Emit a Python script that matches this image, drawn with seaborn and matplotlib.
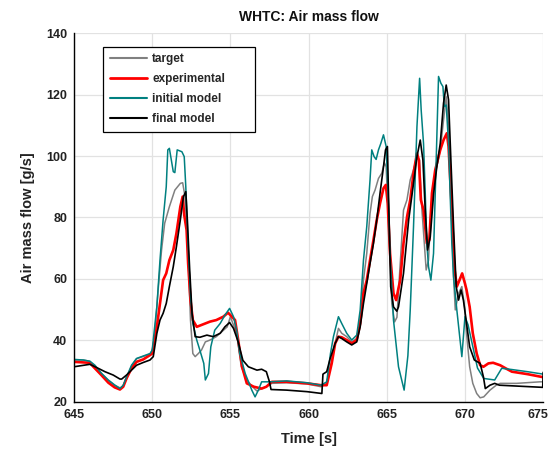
import numpy as np
import pandas as pd
import matplotlib
matplotlib.use("Agg")
import matplotlib.pyplot as plt
import matplotlib.transforms as mtransforms
import seaborn as sns

# ---------------- data ----------------
target_t = [645.0, 645.6, 646.0, 646.35, 646.8, 647.2, 647.6, 647.95, 648.15, 648.4, 648.7, 649.0,
            649.45, 649.9, 650.1, 650.4, 650.6, 650.8, 651.1, 651.45, 651.8, 651.95, 652.1, 652.3,
            652.45, 652.6, 652.75, 652.95, 653.15, 653.4, 653.7, 654.1, 654.8, 655.0, 655.4, 655.7,
            656.05, 656.4, 656.7, 657.0, 657.3, 657.65, 658.6, 659.9, 660.8, 661.16, 661.48, 661.7,
            661.91, 662.12, 662.44, 662.76, 663.08, 663.3, 663.51, 663.72, 663.93, 664.08, 664.25,
            664.47, 664.68, 664.85, 664.96, 665.11, 665.32, 665.5, 665.65, 665.8, 666.07, 666.29,
            666.5, 666.71, 666.93, 667.1, 667.25, 667.4, 667.52, 667.67, 667.82, 667.99, 668.2,
            668.42, 668.63, 668.8, 668.95, 669.1, 669.27, 669.38, 669.59, 669.8, 670.0, 670.1,
            670.3, 670.5, 670.75, 670.97, 671.2, 671.6, 672.0, 672.25, 673.3, 674.8, 675.0]
target_v = [33.6, 33.6, 33.2, 31.6, 29.0, 27.0, 25.4, 24.5, 25.2, 28.0, 31.8, 34.0,
            34.8, 35.6, 37.9, 57.5, 69.4, 78.1, 83.5, 88.9, 91.1, 91.3, 86.8, 68.3,
            46.6, 35.7, 34.7, 35.7, 36.8, 39.5, 40.1, 41.2, 44.4, 47.7, 42.2, 31.4,
            27.1, 25.0, 23.5, 24.3, 24.9, 26.0, 26.2, 25.8, 24.9, 26.0, 33.6, 39.0,
            43.9, 42.3, 41.2, 39.5, 40.6, 46.6, 59.6, 68.3, 81.3, 86.8, 88.9,
            92.7, 94.4, 97.8, 96.5, 78.7, 52.0, 46.0, 47.5, 60.0, 82.4, 85.7,
            92.2, 95.5, 99.8, 98.7, 82.4, 71.6, 62.9, 66.1, 82.4, 91.1, 96.5,
            102.0, 111.7, 119.3, 109.6, 87.9, 60.7, 49.9, 55.3, 57.5, 50.0, 42.3,
            31.4, 26.0, 22.7, 21.3, 21.6, 23.8, 25.4, 26.0, 26.0, 26.5, 26.5]

exp_t = [645.0, 646.0, 646.75, 647.2, 647.6, 647.94, 648.15, 648.36, 648.68, 649.0, 649.43, 649.86,
         650.0, 650.15, 650.3, 650.5, 650.7, 650.9, 651.1, 651.35, 651.55, 651.8, 651.95, 652.05,
         652.2, 652.3, 652.45, 652.6, 652.85, 653.3, 653.7, 654.1, 654.55, 654.85, 655.1, 655.3,
         655.5, 655.75, 656.05, 656.5, 657.0, 657.3, 657.65, 658.6, 659.9, 660.8, 661.16, 661.48,
         661.7, 661.91, 662.12, 662.44, 662.76, 663.08, 663.3, 663.51, 663.72, 663.93, 664.15,
         664.36, 664.57, 664.79, 664.94, 665.06, 665.21, 665.43, 665.6, 665.75, 665.86, 666.07,
         666.3, 666.5, 666.71, 666.93, 667.05, 667.18, 667.35, 667.56, 667.72, 667.89, 668.1,
         668.42, 668.63, 668.84, 668.95, 669.16, 669.31, 669.48, 669.65, 669.82, 670.0, 670.1,
         670.3, 670.5, 670.75, 670.97, 671.18, 671.5, 671.8, 672.25, 672.6, 673.0, 674.0, 675.0]
exp_v = [33.0, 32.7, 28.7, 26.2, 24.7, 24.0, 24.9, 27.6, 30.9, 33.0, 33.8, 35.2,
         35.7, 40.0, 44.4, 52.0, 59.6, 61.8, 66.1, 69.4, 74.8, 83.5, 86.8, 80.8,
         75.9, 65.0, 53.1, 46.6, 44.4, 45.3, 46.1, 46.6, 47.7, 49.0, 47.7, 46.6,
         40.1, 31.4, 26.0, 24.9, 24.3, 24.9, 26.5, 26.5, 26.0, 25.4, 25.4, 32.5,
         39.0, 41.2, 41.0, 40.1, 39.0, 40.1, 45.5, 55.3, 59.6, 66.1, 72.7,
         79.2, 84.6, 89.5, 90.6, 84.6, 68.3, 55.3, 53.1, 57.0, 59.6, 71.6,
         80.3, 85.7, 94.4, 100.9, 98.7, 85.7, 82.4, 71.6, 72.7, 87.9, 95.5,
         102.0, 105.2, 107.4, 103.1, 82.4, 64.0, 57.5, 59.6, 61.8, 58.5, 56.4,
         50.9, 42.3, 35.7, 31.9, 31.4, 32.5, 32.7, 31.9, 30.9, 29.8, 29.0, 28.0]

init_t = [645.0, 645.6, 646.02, 646.34, 646.77, 647.19, 647.62, 647.94, 648.15, 648.36, 648.68, 649.0,
          649.43, 649.86, 650.0, 650.3, 650.5, 650.7, 650.9, 651.0, 651.1, 651.35, 651.45, 651.6,
          651.9, 652.05, 652.15, 652.3, 652.45, 652.6, 652.85, 653.05, 653.3, 653.4, 653.6, 653.75,
          654.0, 654.35, 654.65, 654.95, 655.2, 655.4, 655.6, 655.95, 656.37, 656.58, 656.79, 657.0,
          657.54, 658.6, 659.9, 660.8, 661.16, 661.4, 661.59, 661.91, 662.12, 662.44, 662.76,
          663.08, 663.3, 663.51, 663.72, 663.93, 664.04, 664.19, 664.32, 664.47, 664.62, 664.79,
          664.96, 665.11, 665.21, 665.43, 665.75, 666.11, 666.35, 666.5, 666.71, 666.93, 667.1,
          667.2, 667.35, 667.46, 667.56, 667.67, 667.82, 667.99, 668.16, 668.31, 668.46, 668.59,
          668.68, 668.8, 668.95, 669.05, 669.16, 669.27, 669.48, 669.8, 670.0, 670.2, 670.5,
          670.8, 671.2, 671.9, 672.35, 673.0, 674.0, 675.0]
init_v = [33.8, 33.6, 33.2, 31.9, 29.2, 27.1, 25.4, 24.3, 25.4, 28.1, 31.9, 34.1,
          34.9, 35.7, 36.8, 51.0, 66.1, 79.2, 90.0, 102.0, 102.5, 94.9, 94.6, 102.0,
          101.4, 99.8, 90.0, 70.5, 54.2, 45.5, 40.1, 36.8, 32.5, 27.1, 29.2, 37.9,
          43.3, 45.5, 48.2, 50.4, 47.7, 43.3, 35.7, 29.2, 23.8, 21.6, 23.8, 26.5,
          26.5, 26.8, 26.2, 25.4, 26.5, 35.7, 41.2, 47.7, 45.5, 42.3, 40.1,
          41.7, 49.9, 66.1, 77.0, 92.2, 102.0, 99.8, 98.9, 102.0, 104.1, 106.9,
          103.1, 84.6, 68.3, 46.6, 31.4, 23.8, 35.0, 49.9, 77.0, 109.6, 125.3,
          115.0, 104.1, 87.9, 71.6, 64.0, 59.6, 68.3, 98.7, 125.9, 123.7, 122.6,
          116.1, 116.6, 104.1, 87.9, 71.6, 60.7, 49.9, 34.7, 47.7, 45.0, 38.0,
          31.0, 27.6, 27.1, 30.9, 30.5, 29.8, 29.0]

final_t = [645.0, 646.02, 646.55, 646.98, 647.51, 647.94, 648.05, 648.36, 648.68, 649.0, 649.43, 649.86,
           650.07, 650.3, 650.5, 650.7, 650.9, 651.1, 651.35, 651.55, 651.8, 652.0, 652.15, 652.25,
           652.4, 652.55, 652.75, 653.05, 653.5, 653.9, 654.35, 654.65, 654.95, 655.2, 655.5, 655.8,
           656.15, 656.7, 657.0, 657.3, 657.5, 657.6, 658.6, 659.9, 660.85, 660.92, 661.16, 661.38,
           661.7, 661.91, 662.12, 662.44, 662.76, 663.08, 663.3, 663.51, 663.72, 663.93, 664.15,
           664.36, 664.57, 664.79, 664.92, 665.04, 665.15, 665.25, 665.43, 665.64, 665.75, 666.07,
           666.4, 666.71, 666.93, 667.14, 667.31, 667.46, 667.61, 667.78, 668.0, 668.2, 668.42,
           668.63, 668.8, 668.95, 669.1, 669.27, 669.44, 669.59, 669.75, 669.9, 670.1, 670.3,
           670.6, 670.97, 671.18, 671.3, 671.6, 671.9, 672.2, 674.97, 675.0]
final_v = [31.4, 32.2, 30.9, 29.8, 28.7, 27.4, 27.4, 28.7, 30.3, 31.9, 32.8, 33.6,
           34.7, 42.3, 46.6, 48.8, 52.0, 57.5, 64.0, 70.5, 79.2, 86.8, 88.4, 79.2,
           62.9, 48.8, 41.2, 41.0, 41.7, 41.2, 42.3, 44.4, 45.8, 43.9, 39.5, 33.5,
           31.4, 30.3, 30.6, 29.8, 26.5, 24.0, 23.8, 23.3, 22.7, 29.0, 29.8, 34.1,
           39.0, 41.2, 40.6, 39.5, 38.5, 39.5, 44.4, 52.0, 58.5, 65.0, 71.6,
           79.2, 87.9, 96.5, 102.0, 103.1, 79.2, 57.5, 50.9, 49.5, 50.9, 61.8,
           79.2, 91.1, 99.8, 105.2, 98.7, 82.4, 69.4, 73.7, 87.9, 96.5, 104.1,
           117.2, 123.1, 118.3, 98.7, 77.0, 57.5, 53.1, 56.4, 53.1, 45.5, 37.9,
           33.6, 32.5, 28.1, 24.3, 25.4, 26.0, 25.4, 24.7, 29.6]

series_names = ["target", "experimental", "initial model", "final model"]
series_colors = ["#808080", "#ff0000", "#008080", "#000000"]
series_widths = [1.1, 1.9, 1.1, 1.2]
x_ticks = [645, 650, 655, 660, 665, 670, 675]
y_ticks = [20, 40, 60, 80, 100, 120, 140]

# ---------------- plotting ----------------
sns.set_style("whitegrid", {"grid.color": "#e2e2e2", "axes.edgecolor": "black"})
plt.rcParams["font.family"] = ["Liberation Sans", "DejaVu Sans"]
plt.rcParams["font.weight"] = "bold"

fig = plt.figure(figsize=(5.52, 4.54), dpi=100)
ax = fig.add_axes([0.134, 0.115, 0.850, 0.812])

data_t = [target_t, exp_t, init_t, final_t]
data_v = [target_v, exp_v, init_v, final_v]
for name, tt, vv, col, lw in zip(series_names, data_t, data_v, series_colors, series_widths):
    df = pd.DataFrame({"Time": tt, "Flow": vv})
    sns.lineplot(data=df, x="Time", y="Flow", ax=ax, color=col, linewidth=lw,
                 label=name, sort=False, estimator=None)

ax.set_xlim(645, 675)
ax.set_ylim(20, 140)
ax.set_xticks(x_ticks)
ax.set_yticks(y_ticks)
ax.grid(True, color="#e2e2e2", linewidth=0.9)
for s in ["top", "right"]:
    ax.spines[s].set_visible(False)
for s in ["left", "bottom"]:
    ax.spines[s].set_color("black")
    ax.spines[s].set_linewidth(1.0)
ax.tick_params(axis="both", direction="in", length=3, width=0.8, labelsize=9,
               colors="black", pad=5)
xlabels = ax.get_xticklabels()
for lab in xlabels + ax.get_yticklabels():
    lab.set_fontweight("bold")
    lab.set_color("#222222")
# nudge the last x tick label left so it stays inside the figure (as in the reference)
shift = mtransforms.ScaledTranslation(-4 / 72, 0, fig.dpi_scale_trans)
xlabels[-1].set_transform(xlabels[-1].get_transform() + shift)

ax.set_xlabel("Time [s]", fontsize=10.5, fontweight="bold", color="#222222", labelpad=8)
ax.set_ylabel("Air mass flow [g/s]", fontsize=10.5, fontweight="bold", color="#222222", labelpad=8)
ax.set_title("WHTC: Air mass flow", fontsize=10, fontweight="bold", color="#111111", pad=9)

# legend box spans roughly x 103..255 px, y 47..130 px in the reference
ax_w_px = 0.850 * 552
leg_w = (255 - 103) / ax_w_px
leg = ax.legend(loc="upper left", bbox_to_anchor=(0.062, 0.4, leg_w, 0.563), mode="expand",
                frameon=True, fancybox=False,
                framealpha=1, edgecolor="black", prop={"size": 8.5, "weight": "bold"},
                handlelength=3.2, labelspacing=0.68, borderpad=0.55, handletextpad=0.4,
                borderaxespad=0)
leg.get_frame().set_linewidth(0.9)
for line in leg.get_lines():
    line.set_linewidth(2.0 if line.get_color() == "#ff0000" else 1.5)

fig.savefig("out.png", dpi=100)
